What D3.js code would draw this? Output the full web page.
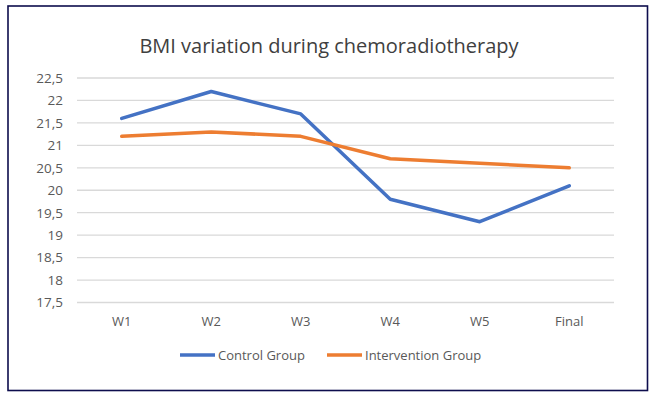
<!DOCTYPE html>
<html>
<head>
<meta charset="utf-8">
<script src="https://cdn.jsdelivr.net/npm/d3@7"></script>
<style>
  body { margin: 0; background: #fff; }
  svg { display: block; }
</style>
</head>
<body>
<div id="chart"></div>
<script>
// data
var weeks = ['W1', 'W2', 'W3', 'W4', 'W5', 'Final'];
var controlGroup = [21.6, 22.2, 21.7, 19.8, 19.3, 20.1];
var interventionGroup = [21.2, 21.3, 21.2, 20.7, 20.6, 20.5];
var yTicks = [17.5, 18, 18.5, 19, 19.5, 20, 20.5, 21, 21.5, 22, 22.5];
var seriesNames = ['Control Group', 'Intervention Group'];
var colors = ['#4472c4', '#ed7d31'];

var w = 655, h = 399;
var plotLeft = 77, plotRight = 614, plotTop = 78, plotBottom = 302.5;
var font = 'Open Sans, Liberation Sans, Arial, sans-serif';

var svg = d3.select('#chart').append('svg')
  .attr('width', w)
  .attr('height', h);

// outer frame
svg.append('rect')
  .attr('x', 8).attr('y', 6)
  .attr('width', 639.5).attr('height', 384.5)
  .attr('fill', '#fff')
  .attr('stroke', '#0d0d4d')
  .attr('stroke-width', 1.6);

svg.append('text')
  .attr('x', 329).attr('y', 53)
  .attr('text-anchor', 'middle')
  .attr('font-family', font)
  .attr('font-size', '20px')
  .attr('fill', '#404040')
  .text('BMI variation during chemoradiotherapy');

var x = d3.scaleBand().domain(weeks).range([plotLeft, plotRight]);
var y = d3.scaleLinear().domain([17.5, 22.5]).range([plotBottom, plotTop]);

// gridlines
svg.append('g')
  .selectAll('line')
  .data(yTicks)
  .enter()
  .append('line')
  .attr('x1', plotLeft).attr('x2', plotRight)
  .attr('y1', function(d) { return y(d); })
  .attr('y2', function(d) { return y(d); })
  .attr('stroke', '#d9d9d9')
  .attr('stroke-width', 1.3);

var fmt = function(d) { return String(d).replace('.', ','); };

var yAxis = svg.append('g')
  .attr('transform', 'translate(' + (plotLeft - 14) + ',0)')
  .call(d3.axisLeft(y).tickValues(yTicks).tickFormat(fmt).tickSize(0).tickPadding(0));
yAxis.select('.domain').remove();
yAxis.selectAll('text')
  .attr('font-family', font)
  .attr('font-size', '13.5px')
  .attr('fill', '#595959');

var xAxis = svg.append('g')
  .attr('transform', 'translate(0,' + plotBottom + ')')
  .call(d3.axisBottom(x).tickSize(0).tickPadding(14));
xAxis.select('.domain').remove();
xAxis.selectAll('text')
  .attr('font-family', font)
  .attr('font-size', '13px')
  .attr('fill', '#595959');

var line = d3.line()
  .x(function(d, i) { return x(weeks[i]) + x.bandwidth() / 2; })
  .y(function(d) { return y(d); });

[controlGroup, interventionGroup].forEach(function(s, i) {
  svg.append('path')
    .datum(s)
    .attr('d', line)
    .attr('fill', 'none')
    .attr('stroke', colors[i])
    .attr('stroke-width', 3.5)
    .attr('stroke-linecap', 'round')
    .attr('stroke-linejoin', 'round');
});

// legend
var legendX = [180, 327];
seriesNames.forEach(function(name, i) {
  svg.append('line')
    .attr('x1', legendX[i]).attr('x2', legendX[i] + 35)
    .attr('y1', 355).attr('y2', 355)
    .attr('stroke', colors[i])
    .attr('stroke-width', 3.5);
  svg.append('text')
    .attr('x', legendX[i] + 38).attr('y', 360)
    .attr('font-family', font)
    .attr('font-size', '13px')
    .attr('fill', '#595959')
    .text(name);
});
</script>
</body>
</html>
